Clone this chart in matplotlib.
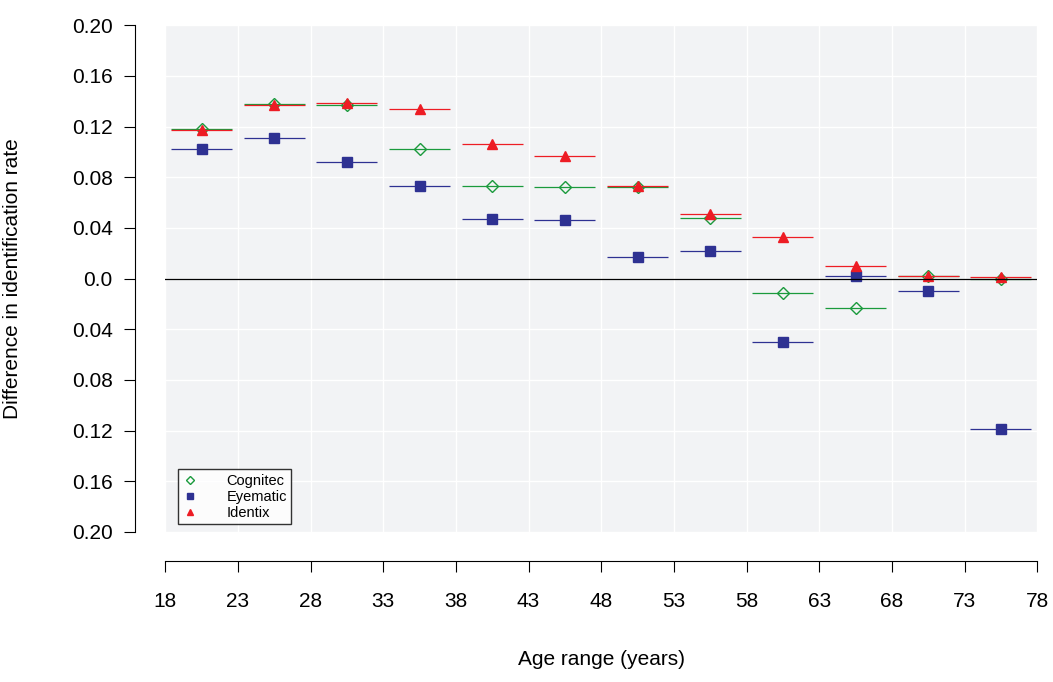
import matplotlib
matplotlib.use("Agg")
import matplotlib.pyplot as plt
import numpy as np

plt.rcParams['font.family'] = ['Liberation Sans', 'DejaVu Sans']

edges = [18, 23, 28, 33, 38, 43, 48, 53, 58, 63, 68, 73, 78]
cognitec = [0.118, 0.138, 0.137, 0.102, 0.073, 0.072, 0.072, 0.048, -0.011, -0.023, 0.002, 0.000]
eyematic = [0.102, 0.111, 0.092, 0.073, 0.047, 0.046, 0.017, 0.022, -0.050, 0.002, -0.010, -0.119]
identix = [0.117, 0.137, 0.139, 0.134, 0.106, 0.097, 0.073, 0.051, 0.033, 0.010, 0.002, 0.001]
ytick_vals = [0.20, 0.16, 0.12, 0.08, 0.04, 0.0, -0.04, -0.08, -0.12, -0.16, -0.20]
ytick_labels = ["0.20", "0.16", "0.12", "0.08", "0.04", "0.0", "0.04", "0.08", "0.12", "0.16", "0.20"]

fig = plt.figure(figsize=(10.53, 6.82), dpi=100)
ax = fig.add_axes([0.157, 0.22, 0.828, 0.743])
ax.set_facecolor("#f2f3f5")

lo = np.array(edges[:-1]) + 0.4
hi = np.array(edges[1:]) - 0.4
mid = (lo + hi) / 2

series = [
    ("Cognitec", cognitec, "#1a9a3c", "D", "none", 6),
    ("Eyematic", eyematic, "#2e3192", "s", "#2e3192", 7),
    ("Identix", identix, "#ed1c24", "^", "#ed1c24", 7),
]
for name, vals, col, mk, fc, ms in series:
    ax.hlines(vals, lo, hi, color=col, lw=0.9)
    ax.plot(mid, vals, mk, color=col, mfc=fc, ms=ms, mew=1, ls="none", label=name)

ax.axhline(0, color="black", lw=0.9)
ax.set_xlim(18, 78)
ax.set_ylim(-0.2, 0.2)
ax.set_xticks(edges)
ax.set_yticks(ytick_vals)
ax.set_yticklabels(ytick_labels)
ax.grid(True, color="white", lw=1)
ax.set_axisbelow(True)
for s in ["top", "right"]:
    ax.spines[s].set_visible(False)
ax.spines["left"].set_position(("outward", 22))
ax.spines["bottom"].set_position(("outward", 21))
ax.tick_params(labelsize=15, length=8, pad=14)
ax.tick_params(axis="y", pad=8)
ax.set_xlabel("Age range (years)", fontsize=15, labelpad=28)
ax.set_ylabel("Difference in identification rate", fontsize=15, labelpad=36)

leg = ax.legend(loc="lower left", bbox_to_anchor=(0.015, 0.015), fontsize=10.5,
                frameon=True, fancybox=False, handletextpad=2.0, borderpad=0.3,
                labelspacing=0.15, handlelength=1, markerscale=0.7, borderaxespad=0)
leg.get_frame().set_edgecolor("black")
leg.get_frame().set_facecolor("white")

fig.savefig("out.png", dpi=100)
